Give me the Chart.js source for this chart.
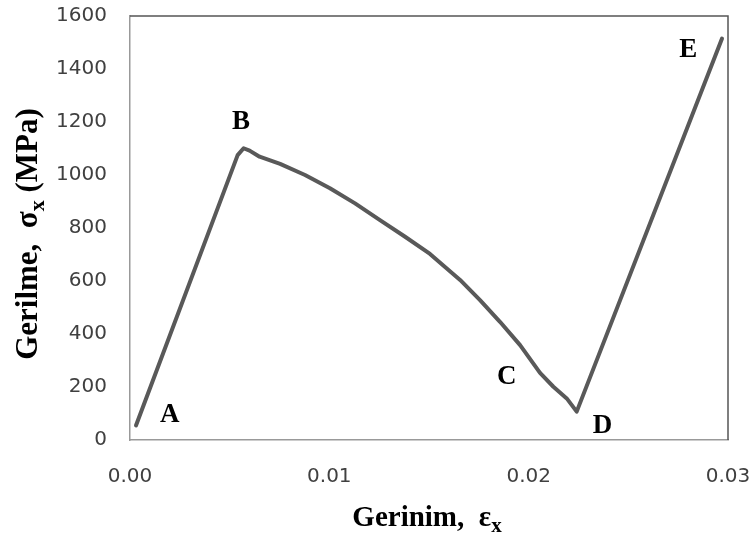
<!DOCTYPE html>
<html>
<head>
<meta charset="utf-8">
<script src="https://cdn.jsdelivr.net/npm/chart.js@4"></script>
<style>
  html, body { margin: 0; padding: 0; background: #fff; }
  #wrap { width: 754px; height: 538px; }
</style>
</head>
<body>
<div id="wrap"><canvas id="grafica"></canvas></div>
<script>
"use strict";
/* DATOS */
const gerinim = [0.0003, 0.0054, 0.0057, 0.0060, 0.0065, 0.00753, 0.00878, 0.01003, 0.01129, 0.01254, 0.0138, 0.01505, 0.01656, 0.01756, 0.01856, 0.01957, 0.02057, 0.02124, 0.02191, 0.02241, 0.0297];
const gerilme = [55, 1075, 1101, 1092, 1069, 1042, 1000, 950, 893, 830, 767, 702, 604, 528, 446, 358, 253, 201, 157, 107, 1515];
const xTicks = ["0.00", "0.01", "0.02", "0.03"];
const yTicks = [0, 200, 400, 600, 800, 1000, 1200, 1400, 1600];
const etiquetas = ["A", "B", "C", "D", "E"];
const etiquetaX = [0.0020, 0.00557, 0.0189, 0.0237, 0.0280];
const etiquetaY = [94, 1200, 238, 53, 1472];

const puntos = gerinim.map((x, i) => ({ x: x, y: gerilme[i] }));

/* PLUGIN: marco, etiquetas y títulos */
const extras = {
    id: "extras",
    afterDraw(chart) {
        const ctx = chart.ctx;
        const a = chart.chartArea;
        const sx = chart.scales.x;
        const sy = chart.scales.y;
        ctx.save();
        // marco superior / derecho
        ctx.strokeStyle = "#555";
        ctx.lineWidth = 1.5;
        ctx.beginPath();
        ctx.moveTo(a.left, a.top);
        ctx.lineTo(a.right, a.top);
        ctx.lineTo(a.right, a.bottom);
        ctx.stroke();
        // etiquetas A-E
        ctx.fillStyle = "#000";
        ctx.font = "bold 27px 'Liberation Serif'";
        ctx.textAlign = "center";
        ctx.textBaseline = "middle";
        etiquetas.forEach((t, i) => {
            ctx.fillText(t, sx.getPixelForValue(etiquetaX[i]), sy.getPixelForValue(etiquetaY[i]));
        });
        // títulos con subíndice
        function titulo(partes, cx, cy, rot, tam) {
            ctx.save();
            ctx.translate(cx, cy);
            ctx.rotate(rot);
            ctx.textAlign = "left";
            ctx.textBaseline = "alphabetic";
            const fuente = p => "bold " + (p.sub ? Math.round(tam * 0.72) : tam) + "px 'Liberation Serif'";
            let total = 0;
            partes.forEach(p => {
                ctx.font = fuente(p);
                total += ctx.measureText(p.t).width;
            });
            let x = -total / 2;
            partes.forEach(p => {
                ctx.font = fuente(p);
                ctx.fillText(p.t, x, p.sub ? tam * 0.22 : 0);
                x += ctx.measureText(p.t).width;
            });
            ctx.restore();
        }
        titulo([{ t: "Gerilme,  σ" }, { t: "x", sub: true }, { t: " (MPa)" }], 37, 234, -Math.PI / 2, 31);
        titulo([{ t: "Gerinim,  ε" }, { t: "x", sub: true }], 427, 526, 0, 29);
        ctx.restore();
    }
};

new Chart(document.getElementById("grafica"), {
    type: "line",
    data: {
        datasets: [{
            data: puntos,
            borderColor: "#595959",
            borderWidth: 4,
            pointRadius: 0,
            tension: 0,
            borderJoinStyle: "round",
            borderCapStyle: "round",
            fill: false
        }]
    },
    options: {
        responsive: true,
        maintainAspectRatio: false,
        animation: false,
        layout: { padding: { top: 16, right: 26, left: 0, bottom: 0 } },
        plugins: { legend: { display: false }, tooltip: { enabled: false } },
        scales: {
            x: {
                type: "linear",
                min: 0,
                max: 0.03,
                afterFit: s => { s.height = 98; s.paddingLeft = 0; s.paddingRight = 0; },
                afterBuildTicks: s => { s.ticks = xTicks.map(v => ({ value: parseFloat(v) })); },
                grid: { display: false, drawTicks: false },
                border: { color: "#999", width: 1.5 },
                ticks: {
                    padding: 25,
                    color: "#404040",
                    font: { family: "'DejaVu Sans'", size: 20 },
                    callback: v => v.toFixed(2)
                }
            },
            y: {
                min: 0,
                max: 1600,
                afterFit: s => { s.width = 130; s.paddingTop = 0; s.paddingBottom = 0; },
                afterBuildTicks: s => { s.ticks = yTicks.map(v => ({ value: v })); },
                grid: { display: false, drawTicks: false },
                border: { color: "#999", width: 1.5 },
                ticks: {
                    padding: 23,
                    color: "#404040",
                    font: { family: "'DejaVu Sans'", size: 20 },
                    callback: v => String(v)
                }
            }
        }
    },
    plugins: [extras]
});
</script>
</body>
</html>
